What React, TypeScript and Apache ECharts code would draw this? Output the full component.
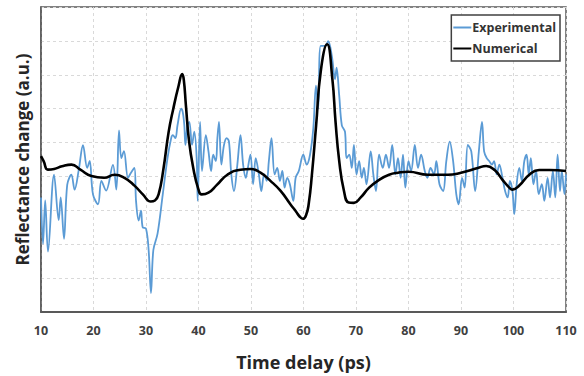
import React, { useEffect, useRef } from "react";
import * as echarts from "echarts";

const xTicks = [10, 20, 30, 40, 50, 60, 70, 80, 90, 100, 110];

const experimentalTime = [
  10, 10.38, 10.8, 11.33, 12.48, 13.37, 13.75, 14.38, 15.0, 15.78, 16.4, 17.2, 18.0, 18.8, 19.27, 19.9,
  20.86, 21.5, 22.4, 23.7, 24.35, 24.86, 25.3, 25.8, 26.57, 27.1, 27.78, 28.1, 28.6, 29.05, 29.37, 30.0,
  30.5, 30.95, 31.4, 32.2, 33.2, 34.1, 34.8, 35.1, 35.6, 36.0, 36.7, 37.0, 37.3, 37.5, 37.9, 38.25,
  38.76, 39.2, 39.65, 39.85, 40.3, 40.67, 41.4, 41.9, 42.4, 42.8, 43.3, 43.6, 43.9, 44.35, 44.86, 45.37,
  45.8, 46.25, 46.76, 47.4, 48.0, 48.5, 49.0, 49.3, 49.9, 50.4, 50.9, 51.5, 51.97, 52.5, 53.0, 53.4,
  53.9, 54.5, 55.0, 55.5, 55.97, 56.4, 56.9, 57.4, 58.06, 58.5, 59.1, 59.96, 60.6, 61.24, 61.87, 62.38,
  62.8, 63.27, 64.1, 64.7, 65.4, 66.0, 66.3, 66.8, 67.3, 67.9, 68.2, 68.7, 69.2, 69.6, 70.1, 70.6,
  71.1, 71.5, 72.0, 72.8, 73.3, 73.8, 74.4, 75.1, 75.7, 76.3, 76.9, 77.5, 78.0, 78.5, 78.95, 79.4,
  80.0, 80.5, 81.2, 81.8, 82.4, 83.1, 83.6, 84.2, 84.86, 85.3, 85.9, 86.6, 87.2, 87.85, 88.5, 89.1,
  89.56, 90.2, 90.7, 91.3, 91.96, 92.7, 93.4, 94.0, 94.4, 94.9, 95.4, 95.9, 96.3, 96.8, 97.3, 97.9,
  98.4, 98.9, 99.3, 99.8, 100.15, 100.6, 101.1, 101.6, 102.06, 102.5, 102.9, 103.3, 103.8, 104.3, 104.8, 105.4,
  105.87, 106.5, 106.95, 107.5, 107.96, 108.4, 108.86, 109.2, 109.7, 110,
];
const experimentalSignal = [
  33.8, 20.1, 32.9, 17.8, 40.5, 27.1, 33.8, 21.6, 37.6, 40.5, 36.1, 42, 49.2, 42.5, 44.6, 34.7,
  31.8, 38.7, 35.8, 43.4, 36.1, 53.6, 45.4, 47.5, 39.6, 41, 42.5, 32.8, 27, 29.9, 25, 24.6,
  18.3, 5.6, 18.3, 23.1, 34.8, 45.4, 51.3, 52.2, 51.3, 55.1, 60, 59, 55.1, 49.3, 55.1, 56.1,
  49.3, 53.2, 45.4, 32.8, 56.1, 41.6, 52.2, 47.4, 41.6, 46.4, 44.5, 51.3, 56.1, 43.5, 49.3, 51.3,
  50.3, 40.6, 35.7, 43.5, 52.2, 43.5, 39.6, 41.6, 46.4, 37.7, 45.4, 40.6, 35.7, 40.6, 38.7, 44.5,
  51.3, 40.6, 42.5, 38.7, 41.6, 36.7, 39.6, 37.7, 32.8, 39.6, 41.6, 46.4, 43.5, 46.4, 54.2, 66.8,
  60, 78.5, 78.5, 79.9, 75.5, 68.7, 72.1, 63.9, 55.1, 53.2, 45.4, 46.4, 42.5, 49.3, 40.6, 44.5,
  39.6, 42.5, 37.7, 47.4, 40.6, 35.7, 46.4, 42.5, 46.4, 42.5, 49.3, 40.6, 45.4, 39.6, 46.4, 36.7,
  44.5, 41.6, 49.3, 42.5, 46.4, 41.6, 39.6, 42.5, 40.6, 44.5, 37.7, 35.7, 44.5, 50.3, 44.5, 34.8,
  31.8, 39.6, 36.7, 49.3, 47.4, 35.7, 47.4, 56.1, 47.4, 45.4, 44.5, 43.5, 44.5, 40.6, 43.5, 39.6,
  35.7, 33.8, 38.7, 35.7, 28.9, 37.7, 42.5, 38.7, 44.5, 46.4, 40.6, 45.4, 37.7, 41.6, 34.8, 37.7,
  32.8, 39.6, 33.8, 41.6, 33.8, 46.4, 35.7, 41.6, 34.8, 40.6,
];

const numericalTime = [
  10, 10.5, 11.3, 12.5, 14, 15.8, 17.5, 19.6, 22, 24, 25.9, 27.8, 29.4, 30.9, 31.7, 32.4,
  33.3, 34.3, 35.2, 36.2, 36.9, 37.2, 37.6, 38.2, 39, 40, 40.6, 41.9, 43.5, 45.5, 48, 49.9,
  51.8, 53.7, 55.6, 57.5, 58.6, 59.3, 59.9, 60.5, 61.0, 61.6, 62.4, 63.3, 64.5, 65.5, 66.1, 66.8, 67.7, 68.6,
  69.6, 70.9, 72.5, 74.4, 76.3, 78, 80, 83.7, 87.5, 90, 93.2, 94.8, 96.4, 97.9, 99.2, 99.8,
  101.1, 103, 104.9, 106.9, 110,
];
const numericalSignal = [
  46, 44.5, 42, 42.2, 43, 43.5, 42, 40.1, 39.6, 40.5, 39.6, 37.3, 34.7, 32.6, 32.9, 34.7,
  42, 53, 60, 66.7, 70.2, 68.5, 61, 50.4, 42.5, 36.1, 34.7, 35.2, 37.5, 40.5, 42, 42.2,
  41.1, 38.7, 35.8, 31.8, 29.6, 28.1, 27.5, 28.6, 32, 40.5, 55, 71.2, 79, 68.7, 56.2, 44.6, 35.8, 32.3,
  32.2, 33.8, 36.7, 39, 40.5, 41.1, 41.4, 40.5, 40.5, 41.1, 42.5, 43.1, 41.9, 39, 36.7, 36.1,
  37.3, 40.5, 41.9, 41.9, 41.6,
];

const zip = (a: number[], b: number[]) => a.map((v, i) => [v, b[i]]);

export default function App() {
  const ref = useRef<HTMLDivElement>(null);
  useEffect(() => {
    if (!ref.current) return;
    const chart = echarts.init(ref.current, null, { renderer: "svg" });
    const font = "'Open Sans', 'Noto Sans', sans-serif";
    chart.setOption({
      animation: false,
      backgroundColor: "#ffffff",
      grid: { left: 41, right: 18, top: 7, bottom: 60, show: true, borderColor: "#595959", borderWidth: 1.5, containLabel: false },
      legend: {
        orient: "vertical",
        right: 24,
        top: 15,
        padding: [6, 4, 6, 2],
        itemGap: 8,
        itemWidth: 18,
        itemHeight: 2,
        icon: "rect",
        borderColor: "#404040",
        borderWidth: 1.5,
        backgroundColor: "#ffffff",
        textStyle: { fontFamily: font, fontWeight: "bold", fontSize: 12.5, color: "#333333", padding: [0, 0, 0, -4] },
        data: ["Experimental", "Numerical"],
      },
      xAxis: {
        type: "value",
        min: 10,
        max: 110,
        interval: 10,
        name: "Time delay (ps)",
        nameLocation: "middle",
        nameGap: 41,
        nameTextStyle: { fontFamily: font, fontWeight: "bold", fontSize: 18, color: "#262626" },
        axisLine: { lineStyle: { color: "#595959", width: 2 } },
        axisTick: { show: false },
        axisLabel: {
          fontFamily: font, fontWeight: "bold", fontSize: 12.5, color: "#404040", margin: 12,
          formatter: (v: number) => (xTicks.includes(v) ? String(v) : ""),
        },
        splitLine: { show: true, lineStyle: { color: "#d9d9d9", type: [3, 3], width: 1 } },
      },
      yAxis: {
        type: "value",
        min: 0,
        max: 90,
        interval: 10,
        name: "Reflectance change (a.u.)",
        nameLocation: "middle",
        nameGap: 10,
        nameTextStyle: { fontFamily: font, fontWeight: "bold", fontSize: 17, color: "#262626", padding: [0, 0, 0, 0] },
        axisLine: { show: true, lineStyle: { color: "#595959", width: 1.5 } },
        axisTick: { show: false },
        axisLabel: { show: false },
        splitLine: { show: true, lineStyle: { color: "#d9d9d9", type: [3, 3], width: 1 } },
      },
      series: [
        {
          name: "Experimental",
          type: "line",
          data: zip(experimentalTime, experimentalSignal),
          smooth: 0.35,
          showSymbol: false,
          symbol: "none",
          lineStyle: { color: "#5b9bd5", width: 1.8 },
          itemStyle: { color: "#5b9bd5" },
          z: 2,
        },
        {
          name: "Numerical",
          type: "line",
          data: zip(numericalTime, numericalSignal),
          smooth: 0.5,
          showSymbol: false,
          symbol: "none",
          lineStyle: { color: "#000000", width: 2.6 },
          itemStyle: { color: "#000000" },
          z: 3,
        },
      ],
    });
    return () => chart.dispose();
  }, []);
  return <div ref={ref} style={{ width: 584, height: 376, position: "absolute", left: 0, top: 0 }} />;
}
